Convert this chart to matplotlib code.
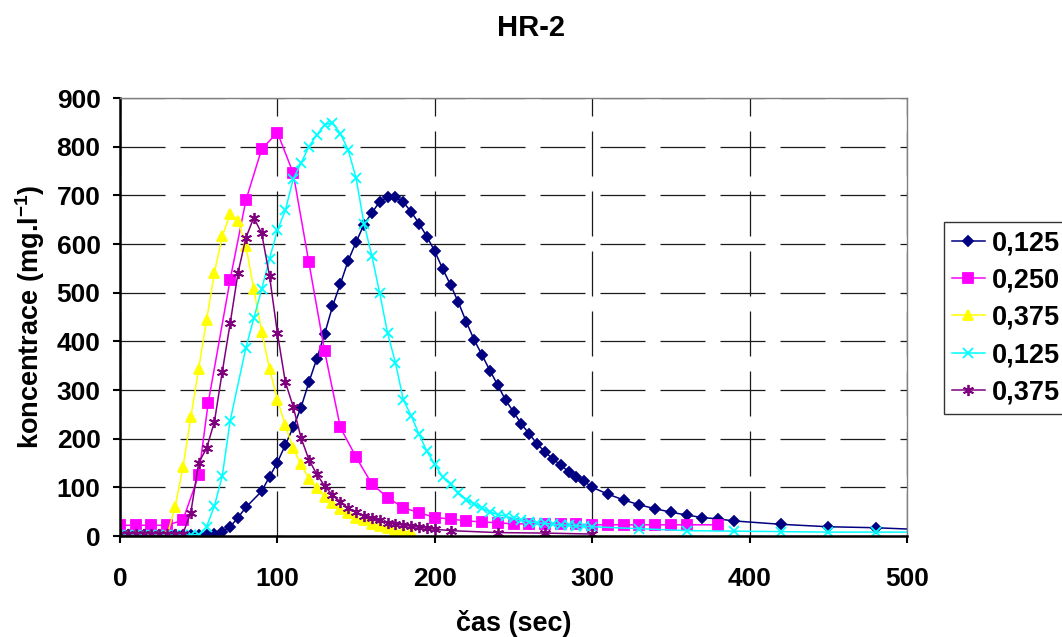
import matplotlib
matplotlib.use("Agg")
import matplotlib.pyplot as plt
import numpy as np

plt.rcParams['font.family'] = ['Liberation Sans', 'DejaVu Sans']
plt.rcParams['font.weight'] = 'bold'
plt.rcParams['mathtext.fontset'] = 'custom'
plt.rcParams['mathtext.rm'] = 'Liberation Sans:bold'
plt.rcParams['mathtext.it'] = 'Liberation Sans:bold'
plt.rcParams['mathtext.bf'] = 'Liberation Sans:bold'
plt.rcParams['mathtext.default'] = 'rm'

title = "HR-2"
xlabel = "čas (sec)"
ylabel = "koncentrace (mg.l$^{-1}$)"
labels = ["0,125", "0,250", "0,375", "0,125", "0,375"]
xticks = [0, 100, 200, 300, 400, 500]
yticks = [0, 100, 200, 300, 400, 500, 600, 700, 800, 900]

# series 1: 0,125 (navy diamonds)
t1 = [0, 5, 10, 15, 20, 25, 30, 35, 40, 45, 50, 55, 60, 65, 70, 75, 80, 90, 95,
      100, 105, 110, 115, 120, 125, 130, 135, 140, 145, 150, 155, 160, 165, 170,
      175, 180, 185, 190, 195, 200, 205, 210, 215, 220, 225, 230, 235, 240, 245,
      250, 255, 260, 265, 270, 275, 280, 285, 290, 295, 300, 310, 320, 330, 340,
      350, 360, 370, 380, 390, 420, 450, 480, 510]
c1 = [3, 3, 3, 3, 3, 3, 3, 3, 3, 3, 3, 2, 4, 9, 19, 38, 59, 92, 122,
      151, 187, 223, 264, 316, 364, 415, 472, 518, 566, 604, 640, 664, 687, 696,
      696, 686, 666, 642, 615, 585, 549, 516, 480, 440, 403, 372, 340, 310, 279,
      255, 230, 210, 189, 173, 158, 146, 132, 122, 112, 100, 86, 74, 64, 56,
      49, 43, 38, 35, 31, 24, 19, 17, 13]

# series 2: 0,250 (magenta squares)
t2 = [0, 10, 20, 30, 40, 50, 56, 70, 80, 90, 100, 110, 120, 130, 140, 150, 160,
      170, 180, 190, 200, 210, 220, 230, 240, 250, 260, 270, 280, 290, 300, 310,
      320, 330, 340, 350, 360, 380]
c2 = [22, 22, 22, 22, 33, 125, 273, 527, 690, 795, 829, 746, 562, 380, 223, 162,
      107, 79, 58, 48, 38, 35, 31, 29, 27, 25, 25, 25, 24, 24, 23, 23,
      23, 23, 23, 23, 23, 23]

# series 3: 0,375 (yellow triangles)
t3 = [0, 5, 10, 15, 20, 25, 30, 35, 40, 45, 50, 55, 60, 65, 70, 75, 80, 85, 90,
      95, 100, 105, 110, 115, 120, 125, 130, 135, 140, 145, 150, 155, 160, 165,
      170, 175, 180, 185]
c3 = [1, 1, 1, 1, 1, 1, 2, 60, 141, 244, 344, 444, 541, 616, 662, 648, 596, 507, 420,
      344, 280, 228, 180, 147, 118, 98, 81, 67, 55, 47, 38, 32, 25, 21,
      16, 12, 10, 8]

# series 4: 0,125 (cyan crosses)
t4 = [0, 5, 10, 15, 20, 25, 30, 35, 40, 45, 50, 55, 60, 65, 70, 80, 85, 90, 95,
      100, 105, 110, 115, 120, 125, 130, 135, 140, 145, 150, 155, 160, 165, 170,
      175, 180, 185, 190, 195, 200, 205, 210, 215, 220, 225, 230, 235, 240, 245,
      250, 255, 260, 265, 270, 275, 280, 285, 290, 295, 300, 330, 360, 390, 420,
      450, 480, 510]
c4 = [2, 2, 2, 2, 2, 2, 2, 2, 2, 2, 3, 19, 62, 124, 237, 387, 447, 507, 570,
      628, 669, 733, 766, 800, 824, 845, 849, 827, 793, 735, 642, 576, 499, 417,
      356, 280, 247, 209, 174, 147, 121, 106, 89, 75, 66, 57, 50, 44, 41,
      36, 33, 29, 27, 26, 24, 23, 22, 21, 20, 19, 15, 11, 10, 9,
      8, 8, 8]

# series 5: 0,375 (purple asterisks)
t5 = [0, 5, 10, 15, 20, 25, 30, 35, 40, 45, 50, 55, 60, 65, 70, 75, 80, 85, 90,
      95, 100, 105, 110, 115, 120, 125, 130, 135, 140, 145, 150, 155, 160, 165,
      170, 175, 180, 185, 190, 195, 200, 210, 240, 270, 300]
c5 = [5, 5, 5, 5, 5, 5, 5, 5, 5, 48, 151, 180, 235, 338, 437, 541, 613, 654, 622,
      534, 417, 317, 266, 202, 157, 127, 103, 84, 70, 57, 49, 42, 36, 32,
      27, 25, 22, 20, 18, 16, 14, 11, 7, 6, 4]

series = [(t1, c1), (t2, c2), (t3, c3), (t4, c4), (t5, c5)]
colors = ["#000080", "#FF00FF", "#FFFF00", "#00FFFF", "#800080"]
markers = ["D", "s", "^", "x", (6, 2, 0)]
msizes = [5.5, 6.5, 7, 7, 8]

fig = plt.figure(figsize=(10.62, 6.37), dpi=100)
ax = fig.add_axes([120/1062, 1-536/637, (907-120)/1062, (536-98)/637])

for (t, c), col, mk, ms, lab in zip(series, colors, markers, msizes, labels):
    ax.plot(t, c, color=col, marker=mk, markersize=ms, lw=1.1,
            markerfacecolor=col, markeredgecolor=col, markeredgewidth=1.3,
            label=lab, clip_on=True)

ax.set_xlim(0, 500)
ax.set_ylim(0, 900)
ax.set_xticks(xticks)
ax.set_yticks(yticks)
ax.grid(True, color="#1a1a1a", lw=0.9, linestyle=(0, (36, 12)))
ax.set_axisbelow(True)

for s in ["left", "bottom"]:
    ax.spines[s].set_linewidth(1.8)
    ax.spines[s].set_color("black")
for s in ["top", "right"]:
    ax.spines[s].set_linewidth(1.0)
    ax.spines[s].set_color("#808080")

FS = 19
ax.tick_params(axis="both", direction="out", length=5, width=1.5, labelsize=FS)
ax.tick_params(axis="x", pad=17)
ax.tick_params(axis="y", pad=9)
for lbl in ax.get_xticklabels() + ax.get_yticklabels():
    lbl.set_fontweight("bold")

ax.set_xlabel(xlabel, fontsize=19.5, fontweight="bold")
ax.xaxis.set_label_coords(0.5, -0.168)
ax.set_ylabel(ylabel, fontsize=19.5, fontweight="bold")
ax.yaxis.set_label_coords(-0.093, 0.5)

fig.text(0.5, 1-28/637, title, ha="center", va="center", fontsize=21, fontweight="bold")

leg = ax.legend(loc="upper left", bbox_to_anchor=(944/1062, 1-222/637),
                bbox_transform=fig.transFigure, fontsize=19.5, frameon=True,
                fancybox=False, edgecolor="black", handlelength=1.2,
                handletextpad=0.25, labelspacing=0.42, borderpad=0.3,
                borderaxespad=0)
leg.get_frame().set_linewidth(1.0)
for txt in leg.get_texts():
    txt.set_fontweight("bold")

fig.savefig("out.png", dpi=100)
